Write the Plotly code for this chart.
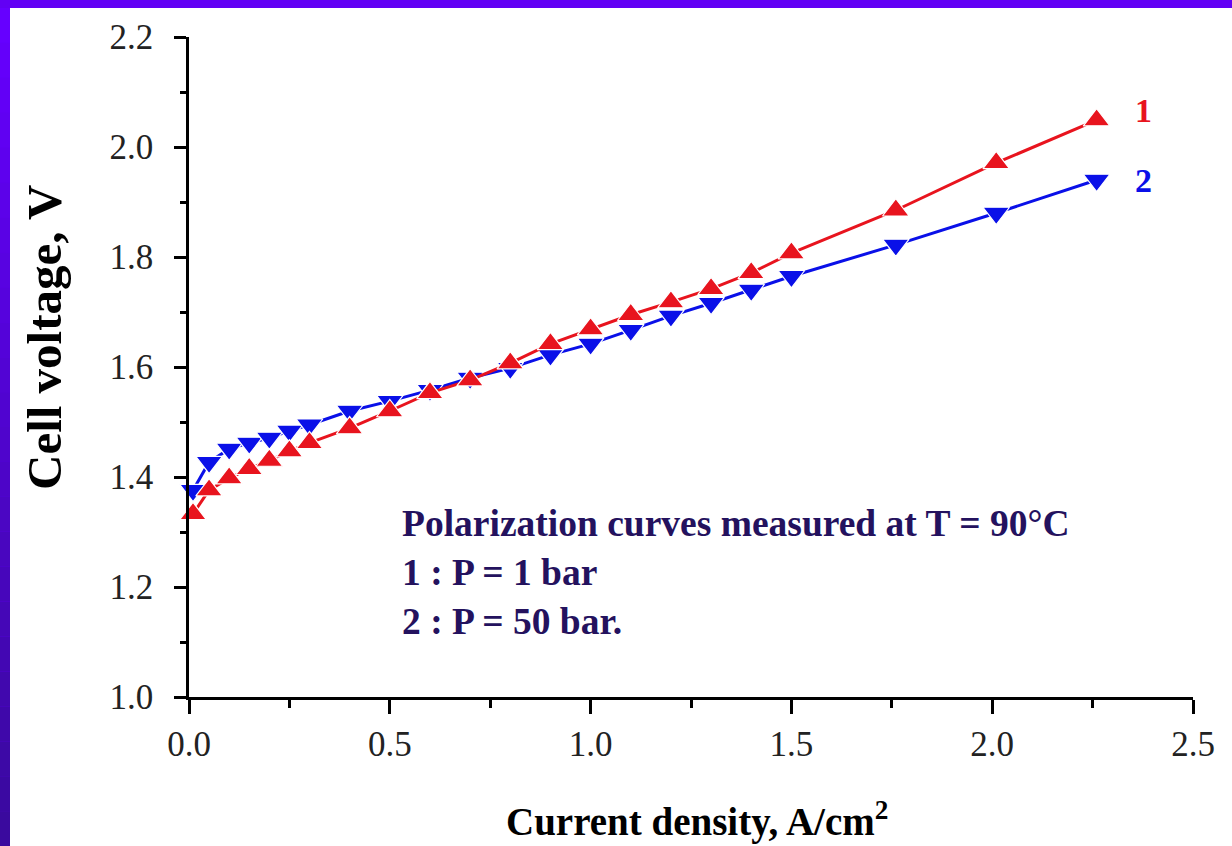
import plotly.graph_objects as go

current_density = [0.01, 0.05, 0.1, 0.15, 0.2, 0.25, 0.3, 0.4, 0.5, 0.6, 0.7,
                   0.8, 0.9, 1.0, 1.1, 1.2, 1.3, 1.4, 1.5, 1.76, 2.01, 2.26]
voltage_1bar = [1.333, 1.376, 1.398, 1.415, 1.430, 1.447, 1.462, 1.489, 1.520, 1.553, 1.576,
                1.607, 1.642, 1.669, 1.695, 1.718, 1.742, 1.771, 1.807, 1.885, 1.971, 2.049]
voltage_50bar = [1.376, 1.427, 1.451, 1.462, 1.471, 1.484, 1.495, 1.520, 1.538, 1.558, 1.580,
                 1.598, 1.622, 1.642, 1.667, 1.693, 1.716, 1.740, 1.765, 1.822, 1.880, 1.940]
x_ticks = [0.0, 0.5, 1.0, 1.5, 2.0, 2.5]
y_ticks = [1.0, 1.2, 1.4, 1.6, 1.8, 2.0, 2.2]

RED = "#e8141e"
BLUE = "#0a10e8"
NAVY = "#24125e"
SERIF = "Liberation Serif"

W, H = 1232, 846
L, R, T, B = 189, 39, 37, 149

fig = go.Figure()
fig.add_trace(go.Scatter(x=current_density, y=voltage_50bar, mode="lines+markers",
                         line=dict(color=BLUE, width=3),
                         marker=dict(symbol="triangle-down", size=23, color=BLUE,
                                     line=dict(color="white", width=1.2)),
                         name="2", showlegend=False))
fig.add_trace(go.Scatter(x=current_density, y=voltage_1bar, mode="lines+markers",
                         line=dict(color=RED, width=3),
                         marker=dict(symbol="triangle-up", size=23, color=RED,
                                     line=dict(color="white", width=1.2)),
                         name="1", showlegend=False))

def px_x(p):
    return (p - L) / (W - L - R)

def px_y(p):
    return 1 - (p - T) / (H - T - B)

shapes = []
# purple frame
shapes.append(dict(type="rect", xref="paper", yref="paper", x0=px_x(0), x1=px_x(W),
                   y0=px_y(H), y1=px_y(0), fillcolor="#6200f4", line=dict(width=0), layer="below"))
# left gradient strip
n = 24
c0 = (0x66, 0x00, 0xff)
c1 = (0x3a, 0x0a, 0x9e)
for i in range(n):
    t = i / (n - 1)
    col = "rgb(%d,%d,%d)" % tuple(int(a + (b - a) * t) for a, b in zip(c0, c1))
    shapes.append(dict(type="rect", xref="paper", yref="paper", x0=px_x(0), x1=px_x(10),
                       y0=px_y(8 + (i + 1) * (H - 8) / n), y1=px_y(8 + i * (H - 8) / n),
                       fillcolor=col, line=dict(width=0), layer="below"))
shapes.append(dict(type="rect", xref="paper", yref="paper", x0=px_x(10), x1=px_x(W),
                   y0=px_y(H), y1=px_y(8), fillcolor="white", line=dict(width=0), layer="below"))

annotations = [
    dict(x=2.35, y=2.067, xref="x", yref="y", text="<b>1</b>", showarrow=False,
         font=dict(family=SERIF, size=34, color=RED), xanchor="left", yanchor="middle"),
    dict(x=2.35, y=1.94, xref="x", yref="y", text="<b>2</b>", showarrow=False,
         font=dict(family=SERIF, size=34, color=BLUE), xanchor="left", yanchor="middle"),
    dict(x=px_x(400), y=px_y(501), xref="paper", yref="paper", xanchor="left", yanchor="top",
         align="left", showarrow=False,
         text="<b>Polarization curves measured at T = 90°C<br>1 : P = 1 bar<br>2 : P = 50 bar.</b>",
         font=dict(family=SERIF, size=37.5, color=NAVY)),
    dict(x=px_x(697), y=px_y(819), xref="paper", yref="paper", xanchor="center", yanchor="middle",
         showarrow=False, text="<b>Current density, A/cm<sup>2</sup></b>",
         font=dict(family=SERIF, size=39, color="black")),
    dict(x=px_x(44), y=px_y(338), xref="paper", yref="paper", xanchor="center", yanchor="middle",
         showarrow=False, textangle=-90, text="<b>Cell voltage, V</b>",
         font=dict(family=SERIF, size=49, color="black")),
]

fig.update_layout(
    width=W, height=H,
    margin=dict(l=L, r=R, t=T, b=B),
    paper_bgcolor="white", plot_bgcolor="rgba(0,0,0,0)",
    shapes=shapes, annotations=annotations,
    xaxis=dict(range=[0, 2.5], tickvals=x_ticks, ticktext=["%.1f" % v for v in x_ticks],
               showgrid=False, zeroline=False, showline=True, linecolor="black", linewidth=2.5,
               ticks="outside", ticklen=14, tickwidth=2.5, tickcolor="black",
               ticklabelstandoff=0,
               tickfont=dict(family=SERIF, size=35, color="#222"),
               minor=dict(ticks="outside", dtick=0.25, tick0=0, ticklen=8, tickwidth=2.5,
                          tickcolor="black", showgrid=False)),
    yaxis=dict(range=[1.0, 2.2], tickvals=y_ticks, ticktext=["%.1f" % v for v in y_ticks],
               showgrid=False, zeroline=False, showline=True, linecolor="black", linewidth=2.5,
               ticks="outside", ticklen=12, tickwidth=2.5, tickcolor="black",
               ticklabelstandoff=14,
               tickfont=dict(family=SERIF, size=35, color="#222"),
               minor=dict(ticks="outside", dtick=0.1, tick0=1.0, ticklen=6, tickwidth=2.5,
                          tickcolor="black", showgrid=False)),
)
fig.update_traces(cliponaxis=False)

fig.write_html("out.html", config={"displayModeBar": False},
               post_script="document.body.style.margin='0px';document.body.style.overflow='hidden';")
